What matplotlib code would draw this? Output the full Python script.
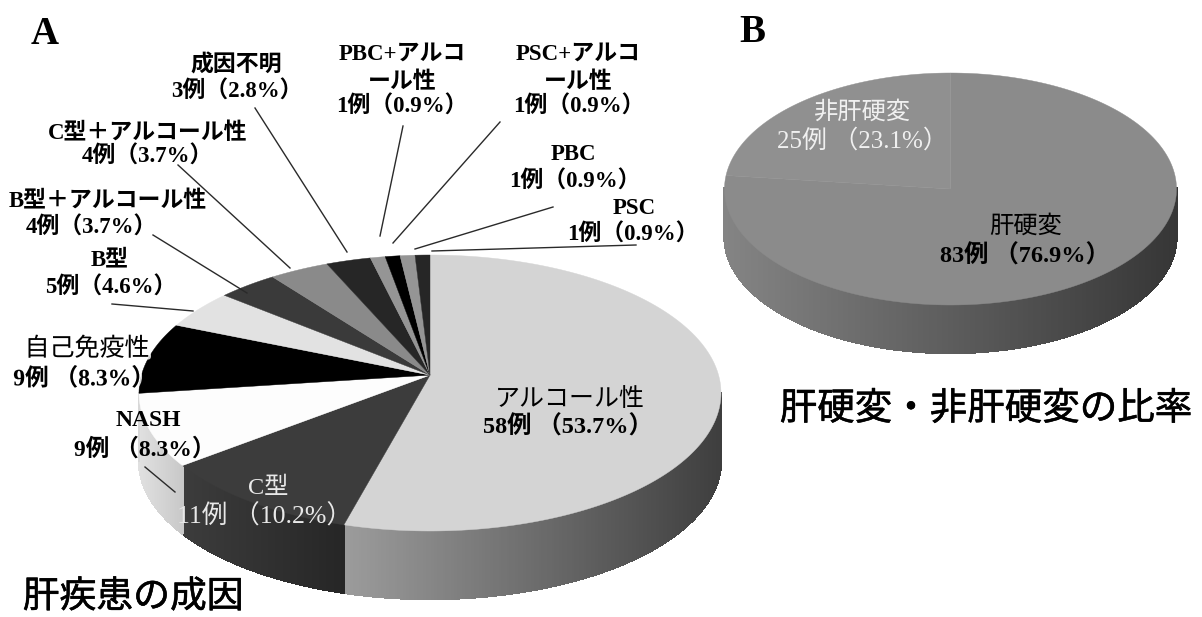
import numpy as np
import matplotlib
matplotlib.use("Agg")
import matplotlib.pyplot as plt
import matplotlib.patheffects as pe
from matplotlib.collections import PolyCollection

plt.rcParams['font.family'] = ['Liberation Serif', 'Noto Sans CJK JP', 'DejaVu Sans']

# Causes of liver disease (cases)
cause_names = ['アルコール性', 'C型', 'NASH', '自己免疫性', 'B型', 'B型+アルコール性',
               'C型+アルコール性', '成因不明', 'PBC+アルコール性', 'PSC+アルコール性', 'PBC', 'PSC']
cause_cases = [58, 11, 9, 9, 5, 4, 4, 3, 1, 1, 1, 1]
cause_top = ['#d4d4d4', '#3c3c3c', '#fdfdfd', '#000000', '#e2e2e2', '#3a3a3a',
             '#8a8a8a', '#262626', '#959595', '#000000', '#959595', '#262626']
cause_side = [('#9c9c9c', '#3e3e3e'), ('#3c3c3c', '#262626'), ('#e0e0e0', '#c8c8c8'),
              ('#d8d8d8', '#d8d8d8'), ('#c0c0c0', '#c0c0c0'), ('#222222', '#222222'),
              ('#666666', '#666666'), ('#111111', '#111111'), ('#666666', '#666666'),
              ('#000000', '#000000'), ('#666666', '#666666'), ('#111111', '#111111')]

# Cirrhosis share (cases)
cirrhosis_names = ['肝硬変', '非肝硬変']
cirrhosis_cases = [83, 25]
cirrhosis_top = ['#8b8b8b', '#909090']
cirrhosis_side = [('#848484', '#363636'), ('#848484', '#848484')]


def rim_xy(frac, cx, cy, rx, ry, tilt):
    """Rim point for a clockwise-from-top pie fraction, with a perspective shift."""
    th = 2 * np.pi * np.asarray(frac)
    z = np.sin(th) + 1j * np.cos(th)
    a = 1j * tilt
    w = (z + a) / (1 + np.conj(a) * z)
    return cx + rx * w.real, cy - ry * w.imag


def draw_pie(ax, cases, top, side, cx, cy, rx, ry, depth, tilt):
    vals = np.asarray(cases, dtype=float)
    edges = np.concatenate([[0], np.cumsum(vals)]) / vals.sum()
    p = 2 * tilt / (1 + tilt ** 2)
    apex = (cx, cy - ry * p)

    # Side wall, drawn as narrow vertical strips so the shading can vary with x
    for i in range(len(vals)):
        f = np.linspace(edges[i], edges[i + 1], 400)
        x, y = rim_xy(f, cx, cy, rx, ry, tilt)
        left = np.array(matplotlib.colors.to_rgb(side[i][0]))
        right = np.array(matplotlib.colors.to_rgb(side[i][1]))
        polys, cols = [], []
        span = max(x.max() - x.min(), 1)
        for k in range(len(f) - 1):
            if y[k] < cy and y[k + 1] < cy:
                continue
            polys.append([(x[k], y[k]), (x[k + 1], y[k + 1]),
                          (x[k + 1], y[k + 1] + depth), (x[k], y[k] + depth)])
            cols.append(left + (right - left) * ((x[k] - x.min()) / span))
        if polys:
            ax.add_collection(PolyCollection(polys, facecolors=cols, edgecolors=cols,
                                             linewidths=1.0, antialiaseds=False, zorder=1))

    # Top face
    for i in range(len(vals)):
        f = np.linspace(edges[i], edges[i + 1], 200)
        x, y = rim_xy(f, cx, cy, rx, ry, tilt)
        ax.fill(np.r_[apex[0], x], np.r_[apex[1], y], fc=top[i], ec=top[i],
                lw=0.3, zorder=2)


def label(ax, x, y, s, size=16.5, weight='bold', color='black', halo=False, heavy=False):
    t = ax.text(x, y + 2, s, ha='center', va='center', fontsize=size,
                fontweight=weight, color=color, zorder=6)
    if halo:
        t.set_path_effects([pe.withStroke(linewidth=4, foreground='white', alpha=0.8)])
    if heavy:
        t.set_path_effects([pe.withStroke(linewidth=0.4, foreground=color)])


fig = plt.figure(figsize=(12.02, 6.17), dpi=100)
ax = fig.add_axes([0, 0, 1, 1])
ax.set_xlim(0, 1202)
ax.set_ylim(617, 0)
ax.axis('off')

draw_pie(ax, cause_cases, cause_top, cause_side, 430, 393, 291, 138, 68, 0.065)
draw_pie(ax, cirrhosis_cases, cirrhosis_top, cirrhosis_side, 950.5, 189, 226, 116, 48, 0.0)

# Leader lines
leaders = [((432, 251), (636, 245)), ((415, 249), (553, 207)), ((393, 243), (500, 122)),
           ((380, 236), (403, 126)), ((347, 252), (255, 108)), ((290, 268), (178, 165)),
           ((247, 293), (153, 235)), ((193, 311), (112, 304)), ((175, 492), (145, 467))]
for a, b in leaders:
    ax.plot([a[0], b[0]], [a[1], b[1]], color='#2a2a2a', lw=1.0, zorder=5)

# Panel letters and captions
label(ax, 45, 32, 'A', size=28)
label(ax, 752, 31, 'B', size=28)
label(ax, 133, 596, '肝疾患の成因', size=26.5, weight='normal', heavy=True)
label(ax, 986, 408, '肝硬変・非肝硬変の比率', size=27, weight='normal', heavy=True)

# Slice labels
label(ax, 236, 63, '成因不明')
label(ax, 237, 90, '3例（2.8%）')
label(ax, 402, 52, 'PBC+アルコ')
label(ax, 402, 80, 'ール性')
label(ax, 402, 105, '1例（0.9%）')
label(ax, 578, 52, 'PSC+アルコ')
label(ax, 578, 80, 'ール性')
label(ax, 579, 105, '1例（0.9%）')
label(ax, 573, 152, 'PBC')
label(ax, 575, 180, '1例（0.9%）')
label(ax, 634, 207, 'PSC')
label(ax, 633, 233, '1例（0.9%）')
label(ax, 148, 131, 'C型＋アルコール性')
label(ax, 147, 155, '4例（3.7%）')
label(ax, 108, 199, 'B型＋アルコール性')
label(ax, 91, 226, '4例（3.7%）')
label(ax, 110, 258, 'B型')
label(ax, 111, 286, '5例（4.6%）')
label(ax, 87, 347, '自己免疫性', size=18, weight='normal', halo=True)
label(ax, 84, 377, '9例 （8.3%）', size=17, halo=True)
label(ax, 148, 419, 'NASH', size=17)
label(ax, 145, 447, '9例 （8.3%）', size=17)
label(ax, 268, 486, 'C型', size=17.5, weight='normal', color='#e8e8e8')
label(ax, 265, 514, '11例 （10.2%）', size=18.5, weight='normal', color='#e8e8e8')
label(ax, 570, 398, 'アルコール性', size=18, weight='normal')
label(ax, 568, 425, '58例 （53.7%）', size=17.5)
label(ax, 862, 110, '非肝硬変', size=17.5, weight='normal', color='#f0f0f0')
label(ax, 862, 139, '25例 （23.1%）', size=18, weight='normal', color='#f0f0f0')
label(ax, 1026, 224, '肝硬変', size=17.5, weight='normal')
label(ax, 1025, 254, '83例 （76.9%）', size=17.5)

fig.savefig('out.png', dpi=100)
